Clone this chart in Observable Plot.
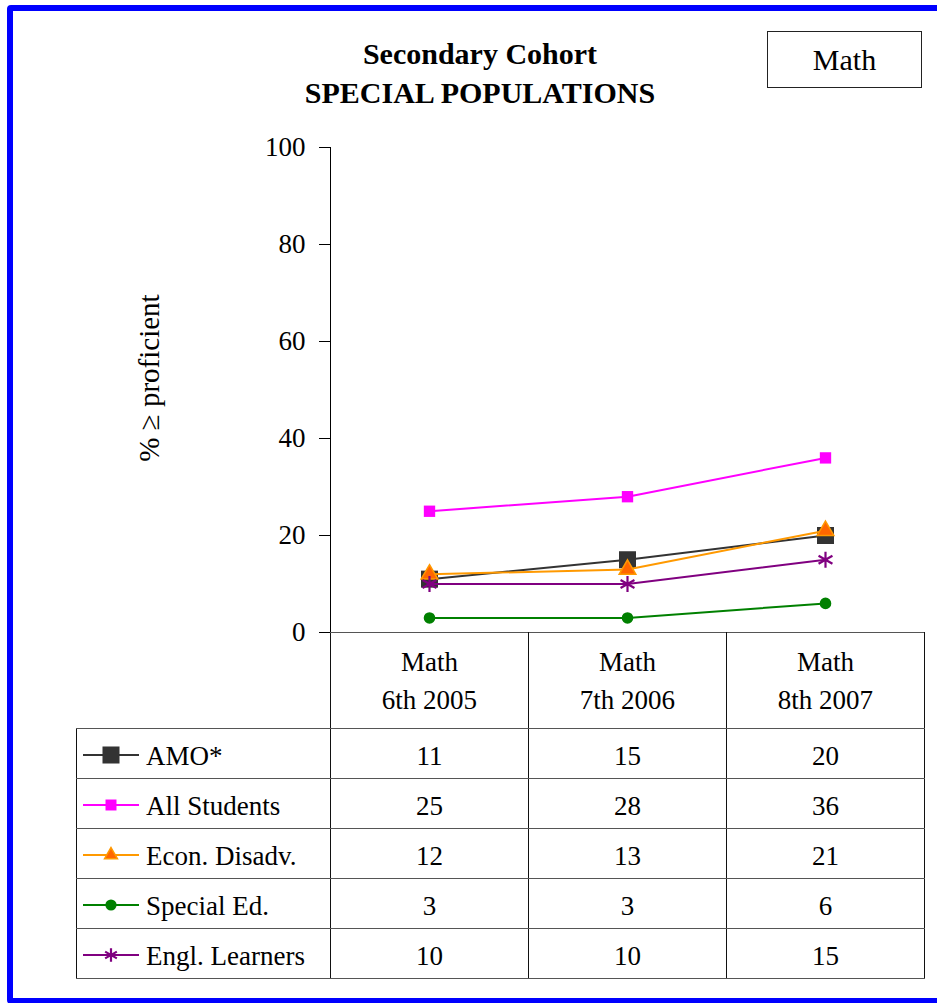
<!DOCTYPE html>
<html>
<head>
<meta charset="utf-8">
<script src="https://cdn.jsdelivr.net/npm/d3@7"></script>
<script src="https://cdn.jsdelivr.net/npm/@observablehq/plot@0.6"></script>
<style>
  html, body { margin: 0; padding: 0; background: #fff; width: 937px; height: 1003px; overflow: hidden; }
  body { position: relative; font-family: "Liberation Serif", "Times New Roman", serif; color: #000; }
  #frame { position: absolute; left: 7px; top: 5px; width: 960px; height: 987px; border: 6px solid #0000ff; border-radius: 4px; }
  #title { position: absolute; left: 230px; top: 34px; width: 500px; text-align: center; font-weight: bold; font-size: 30px; line-height: 39px; }
  #tag { position: absolute; left: 767px; top: 31px; width: 153px; height: 55px; border: 1.5px solid #222; font-size: 30px; line-height: 55px; text-align: center; }
  #chart { position: absolute; left: 0; top: 120px; }
  #table { position: absolute; left: 76px; top: 632px; border-collapse: collapse; table-layout: fixed; font-size: 27px; }
  #table td { padding: 0; text-align: center; border: 1px solid #555; }
  #table tr.head td { height: 95px; line-height: 38px; vertical-align: middle; border-left-color: #111; border-right-color: #111; }
  #table tr.head td.blank { border: none; }
  #table tr.row td { height: 44px; padding-top: 5px; border-left-color: #111; border-right-color: #111; }
  #table td.name { text-align: left; white-space: nowrap; }
  #table td.name svg { vertical-align: middle; margin-left: 6px; margin-right: 7px; position: relative; top: -2px; }
  #table td.name span { vertical-align: middle; }
</style>
</head>
<body>
<div id="frame"></div>
<div id="title">Secondary Cohort<br>SPECIAL POPULATIONS</div>
<div id="tag">Math</div>
<div id="chart"></div>
<table id="table"></table>
<script>
// Test administrations (x categories)
const categories = ["Math\n6th 2005", "Math\n7th 2006", "Math\n8th 2007"];

// Student groups, in drawing order
const seriesNames = ["AMO*", "All Students", "Econ. Disadv.", "Special Ed.", "Engl. Learners"];

// Percent at or above proficient, one array per group
const amo = [11, 15, 20];
const allStudents = [25, 28, 36];
const econDisadv = [12, 13, 21];
const specialEd = [3, 3, 6];
const englLearners = [10, 10, 15];

const yTicks = [0, 20, 40, 60, 80, 100];
const yLabel = "% \u2265 proficient";

// Visual encoding for each group (r: chart marker, lr: legend marker)
const styles = [
  {line: "#333333", fill: "#333333", stroke: "none", symbol: "square", r: 9.6, lr: 9.6, sw: 0},
  {line: "#ff00ff", fill: "#ff00ff", stroke: "none", symbol: "square", r: 6.4, lr: 6.2, sw: 0},
  {line: "#ff9900", fill: "#ff6600", stroke: "#ff9900", symbol: "triangle", r: 6.2, lr: 4.8, sw: 1.5},
  {line: "#008000", fill: "#008000", stroke: "none", symbol: "circle", r: 5.8, lr: 5.6, sw: 0},
  {line: "#800080", fill: "none", stroke: "#800080", symbol: "asterisk", r: 7.6, lr: 6.4, sw: 2.2}
];

const valuesBySeries = [amo, allStudents, econDisadv, specialEd, englLearners];

const data = seriesNames.flatMap((name, si) =>
  valuesBySeries[si].map((v, i) => ({series: name, cat: categories[i], value: v}))
);

const seriesMarks = seriesNames.flatMap((name, si) => {
  const s = styles[si];
  const rows = data.filter(d => d.series === name);
  return [
    Plot.line(rows, {x: "cat", y: "value", stroke: s.line, strokeWidth: 2}),
    Plot.dot(rows, {x: "cat", y: "value", symbol: () => s.symbol, r: s.r, fill: s.fill, stroke: s.stroke, strokeWidth: s.sw})
  ];
});

const chart = Plot.plot({
  width: 937,
  height: 530,
  marginLeft: 330,
  marginRight: 13,
  marginTop: 27,
  marginBottom: 18,
  style: {fontFamily: "Liberation Serif, Times New Roman, serif", fontSize: "27px", color: "#000", background: "transparent", overflow: "visible"},
  x: {type: "point", domain: categories, padding: 0.5, axis: null},
  y: {domain: [0, 100], axis: null},
  symbol: {type: "identity"},
  marks: [
    Plot.axisY(yTicks, {tickSize: 11, tickPadding: 14, label: null, fontSize: 27, stroke: "#000"}),
    Plot.frame({anchor: "left", stroke: "#000"}),
    Plot.ruleY([0], {stroke: "#222"}),
    Plot.text([yLabel], {frameAnchor: "left", textAnchor: "middle", rotate: -90, dx: -181, dy: -12, fontSize: 29, fill: "#000"}),
    ...seriesMarks
  ]
});
document.getElementById("chart").appendChild(chart);

// Data table below the chart: header row with categories, one row per group
const table = d3.select("#table");
const colgroup = table.append("colgroup");
colgroup.append("col").style("width", "254px");
categories.forEach(() => colgroup.append("col").style("width", "198px"));

const head = table.append("tr").attr("class", "head");
head.append("td").attr("class", "blank");
categories.forEach(c => head.append("td").html(c.split("\n").join("<br>")));

seriesNames.forEach((name, si) => {
  const s = styles[si];
  const tr = table.append("tr").attr("class", "row");
  const cell = tr.append("td").attr("class", "name");
  const sw = cell.append("svg").attr("width", 56).attr("height", 24);
  sw.append("line").attr("x1", 0).attr("x2", 56).attr("y1", 12).attr("y2", 12)
    .attr("stroke", s.line).attr("stroke-width", 2);
  const sym = {square: d3.symbolSquare, triangle: d3.symbolTriangle, circle: d3.symbolCircle, asterisk: d3.symbolAsterisk}[s.symbol];
  sw.append("path")
    .attr("transform", "translate(28,12)")
    .attr("d", d3.symbol(sym, Math.PI * s.lr * s.lr)())
    .attr("fill", s.fill).attr("stroke", s.stroke).attr("stroke-width", s.sw);
  cell.append("span").text(name);
  valuesBySeries[si].forEach(v => tr.append("td").text(v));
});
</script>
</body>
</html>
